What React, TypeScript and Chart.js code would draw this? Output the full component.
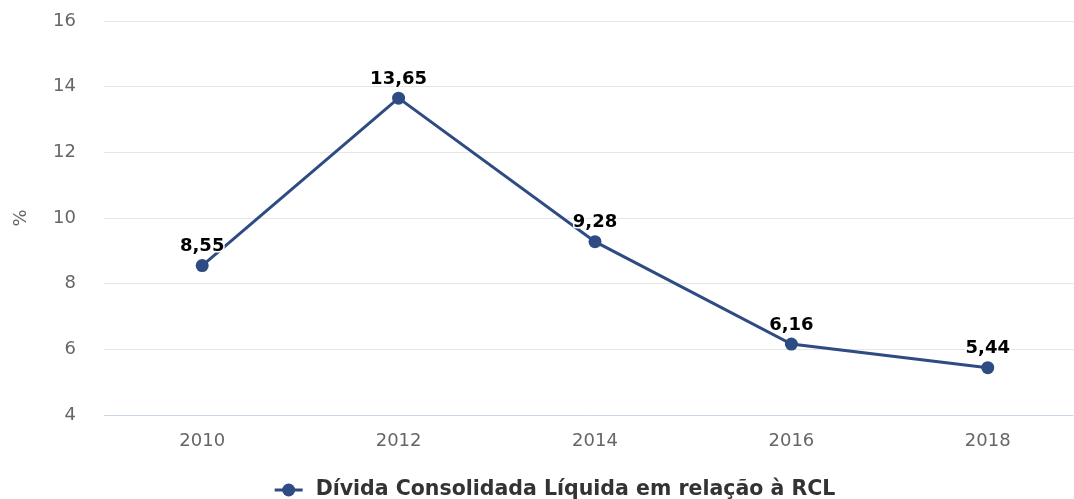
import React, { useEffect, useRef } from "react";
import { Chart, registerables } from "chart.js";

Chart.register(...registerables);

const years = [2010, 2012, 2014, 2016, 2018];
const values = [8.55, 13.65, 9.28, 6.16, 5.44];
const seriesLabel = "Dívida Consolidada Líquida em relação à RCL";
const yTitle = "%";

const LINE_COLOR = "#2f4b84";
const FONT = "DejaVu Sans, Verdana, sans-serif";

const fmt = (v: number) => v.toFixed(2).replace(".", ",");

const dataLabelPlugin = {
  id: "dataLabels",
  afterDatasetsDraw(chart: any) {
    const ctx = chart.ctx;
    const meta = chart.getDatasetMeta(0);
    ctx.save();
    ctx.font = `bold 18px ${FONT}`;
    ctx.textAlign = "center";
    ctx.textBaseline = "middle";
    meta.data.forEach((pt: any, i: number) => {
      const txt = fmt(values[i]);
      const y = pt.y - 19;
      ctx.lineWidth = 3;
      ctx.strokeStyle = "#ffffff";
      ctx.lineJoin = "round";
      ctx.strokeText(txt, pt.x, y);
      ctx.fillStyle = "#000000";
      ctx.fillText(txt, pt.x, y);
    });
    ctx.restore();
  },
};

const legendPlugin = {
  id: "customLegend",
  afterDraw(chart: any) {
    const ctx = chart.ctx;
    ctx.save();
    ctx.font = `bold 20.5px ${FONT}`;
    const tw = ctx.measureText(seriesLabel).width;
    const symW = 28;
    const gap = 13;
    const total = symW + gap + tw;
    const cx = 555;
    const x0 = cx - total / 2;
    const y = 490;
    ctx.strokeStyle = LINE_COLOR;
    ctx.lineWidth = 3;
    ctx.beginPath();
    ctx.moveTo(x0, y);
    ctx.lineTo(x0 + symW, y);
    ctx.stroke();
    ctx.fillStyle = LINE_COLOR;
    ctx.beginPath();
    ctx.arc(x0 + symW / 2, y, 6.5, 0, Math.PI * 2);
    ctx.fill();
    ctx.fillStyle = "#333333";
    ctx.textAlign = "left";
    ctx.textBaseline = "middle";
    ctx.fillText(seriesLabel, x0 + symW + gap, y);
    ctx.restore();
  },
};

export default function App() {
  const ref = useRef<HTMLCanvasElement | null>(null);
  useEffect(() => {
    if (!ref.current) return;
    const chart = new Chart(ref.current, {
      type: "line",
      data: {
        datasets: [
          {
            label: seriesLabel,
            data: years.map((y, i) => ({ x: y, y: values[i] })),
            borderColor: LINE_COLOR,
            backgroundColor: LINE_COLOR,
            borderWidth: 3,
            pointRadius: 6.5,
            pointHoverRadius: 6.5,
            pointBackgroundColor: LINE_COLOR,
            pointBorderWidth: 0,
            tension: 0,
          },
        ],
      },
      options: {
        animation: false,
        responsive: false,
        layout: { padding: { top: 21, right: 0, bottom: 44, left: 0 } },
        plugins: {
          legend: { display: false },
          tooltip: { enabled: false },
        },
        scales: {
          x: {
            type: "linear",
            min: 2009,
            max: 2018.873,
            afterBuildTicks: (s: any) => {
              s.ticks = years.map((v) => ({ value: v }));
            },
            afterFit: (s: any) => {
              s.height = 40;
              s.paddingLeft = 0;
              s.paddingRight = 0;
            },
            grid: { display: false },
            border: { display: false },
            ticks: {
              color: "#666666",
              font: { family: FONT, size: 18 },
              padding: 8,
              callback: (v: any) => String(v),
              maxRotation: 0,
            },
          },
          y: {
            min: 4,
            max: 16,
            afterFit: (s: any) => {
              s.width = 104;
              s.paddingTop = 0;
              s.paddingBottom = 0;
            },
            ticks: {
              stepSize: 2,
              color: "#666666",
              font: { family: FONT, size: 18 },
              padding: 28,
            },
            grid: {
              drawTicks: false,
              color: (c: any) => (c.tick && c.tick.value === 4 ? "#ccd6eb" : "#e6e6e6"),
              lineWidth: 1,
            },
            border: { display: false },
            title: {
              display: true,
              text: yTitle,
              color: "#666666",
              font: { family: FONT, size: 18 },
              padding: { top: 11, bottom: 0 },
            },
          },
        },
      },
      plugins: [dataLabelPlugin, legendPlugin],
    });
    return () => chart.destroy();
  }, []);
  return (
    <div style={{ position: "fixed", left: 0, top: 0, width: 1074, height: 499, overflow: "hidden", background: "#fff" }}>
      <canvas ref={ref} width={1080} height={499} style={{ display: "block" }} />
    </div>
  );
}
